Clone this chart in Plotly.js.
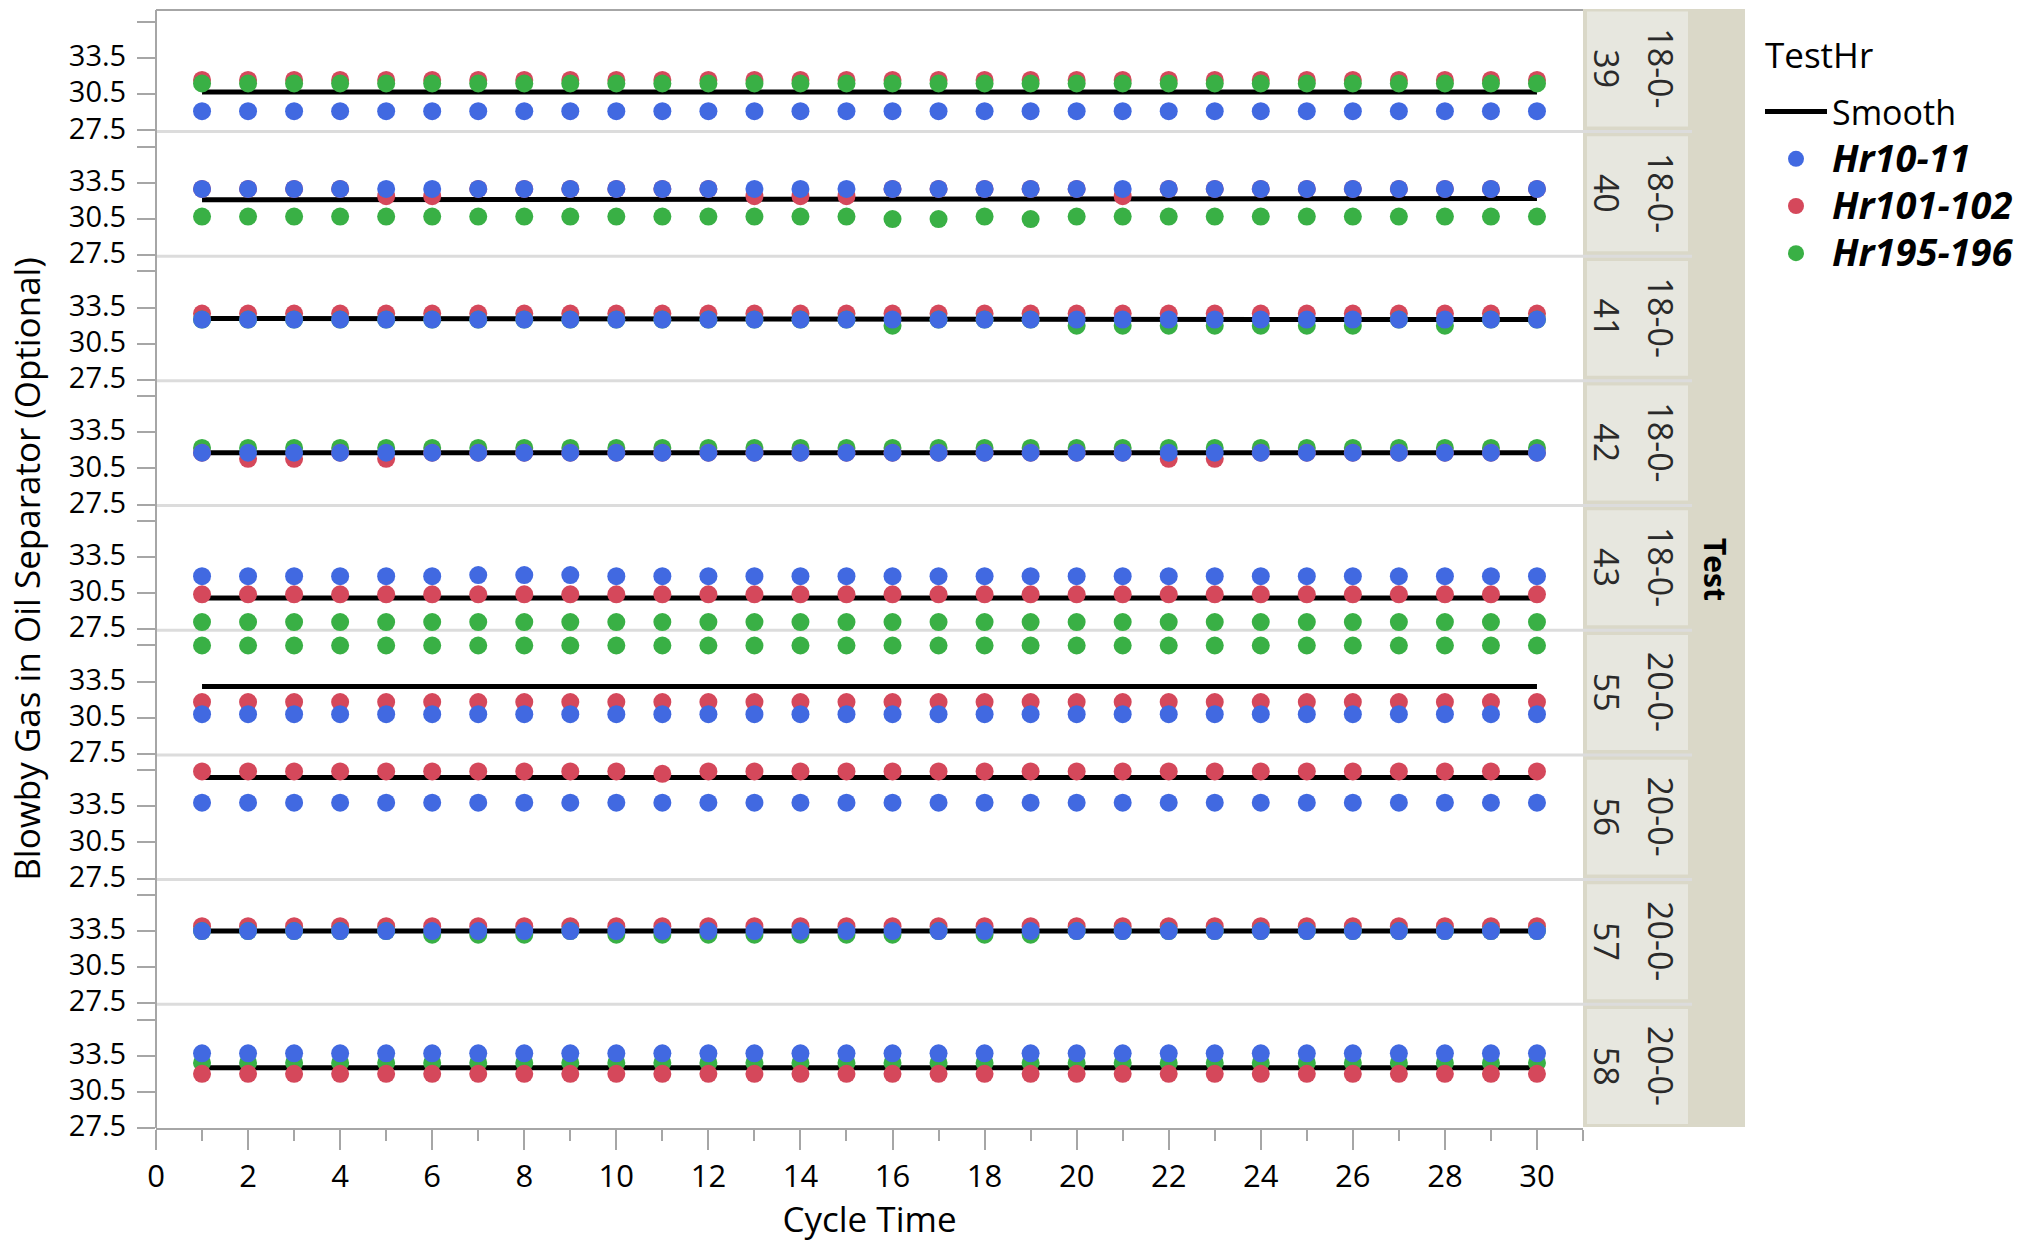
<!DOCTYPE html>
<html><head><meta charset="utf-8">
<script src="https://cdn.plot.ly/plotly-3.0.1.min.js"></script>
<style>html,body{margin:0;padding:0;background:#fff;} #chart{width:2025px;height:1242px;}</style>
</head><body><div id="chart"></div>
<script>
// ---------------- DATA ----------------
const cycleTime = [1,2,3,4,5,6,7,8,9,10,11,12,13,14,15,16,17,18,19,20,21,22,23,24,25,26,27,28,29,30];
const tests = ['18-0-39','18-0-40','18-0-41','18-0-42','18-0-43','20-0-55','20-0-56','20-0-57','20-0-58'];
const hrNames = ['Hr10-11','Hr101-102','Hr195-196'];
const yTickVals = [27.5,30.5,33.5,36.5];
const yTickText = ['27.5','30.5','33.5',''];

// Test 18-0-39
const hr10_39  = [29.1,29.1,29.1,29.1,29.1,29.1,29.1,29.1,29.1,29.1,29.1,29.1,29.1,29.1,29.1,29.1,29.1,29.1,29.1,29.1,29.1,29.1,29.1,29.1,29.1,29.1,29.1,29.1,29.1,29.1];
const hr101_39 = [31.7,31.7,31.7,31.7,31.7,31.7,31.7,31.7,31.7,31.7,31.7,31.7,31.7,31.7,31.7,31.7,31.7,31.7,31.7,31.7,31.7,31.7,31.7,31.7,31.7,31.7,31.7,31.7,31.7,31.7];
const hr195_39 = [31.4,31.4,31.4,31.4,31.4,31.4,31.4,31.4,31.4,31.4,31.4,31.4,31.4,31.4,31.4,31.4,31.4,31.4,31.4,31.4,31.4,31.4,31.4,31.4,31.4,31.4,31.4,31.4,31.4,31.4];
const smooth_39 = [30.7,30.7,30.7,30.7,30.7,30.7,30.7,30.7,30.7,30.7,30.7,30.7,30.7,30.7,30.7,30.7,30.7,30.7,30.7,30.7,30.7,30.7,30.7,30.7,30.7,30.7,30.7,30.7,30.7,30.7];
// Test 18-0-40
const hr10_40  = [33.0,33.0,33.0,33.0,33.0,33.0,33.0,33.0,33.0,33.0,33.0,33.0,33.0,33.0,33.0,33.0,33.0,33.0,33.0,33.0,33.0,33.0,33.0,33.0,33.0,33.0,33.0,33.0,33.0,33.0];
const hr101_40 = [33.0,33.0,33.0,33.0,32.4,32.4,33.0,33.0,33.0,33.0,33.0,33.0,32.4,32.4,32.4,33.0,33.0,33.0,33.0,33.0,32.4,33.0,33.0,33.0,33.0,33.0,33.0,33.0,33.0,33.0];
const hr195_40 = [30.7,30.7,30.7,30.7,30.7,30.7,30.7,30.7,30.7,30.7,30.7,30.7,30.7,30.7,30.7,30.5,30.5,30.7,30.5,30.7,30.7,30.7,30.7,30.7,30.7,30.7,30.7,30.7,30.7,30.7];
const smooth_40 = [32.1,32.1,32.1,32.1,32.2,32.2,32.2,32.2,32.2,32.2,32.2,32.2,32.2,32.2,32.2,32.2,32.2,32.2,32.2,32.2,32.2,32.2,32.2,32.2,32.2,32.2,32.2,32.2,32.2,32.2];
// Test 18-0-41
const hr10_41  = [32.5,32.5,32.5,32.5,32.5,32.5,32.5,32.5,32.5,32.5,32.5,32.5,32.5,32.5,32.5,32.5,32.5,32.5,32.5,32.5,32.5,32.5,32.5,32.5,32.5,32.5,32.5,32.5,32.5,32.5];
const hr101_41 = [33.0,33.0,33.0,33.0,33.0,33.0,33.0,33.0,33.0,33.0,33.0,33.0,33.0,33.0,33.0,33.0,33.0,33.0,33.0,33.0,33.0,33.0,33.0,33.0,33.0,33.0,33.0,33.0,33.0,33.0];
const hr195_41 = [32.5,32.5,32.5,32.5,32.5,32.5,32.5,32.5,32.5,32.5,32.5,32.5,32.5,32.5,32.5,32.0,32.5,32.5,32.5,32.0,32.0,32.0,32.0,32.0,32.0,32.0,32.5,32.0,32.5,32.5];
const smooth_41 = [32.6,32.6,32.6,32.6,32.6,32.6,32.6,32.6,32.6,32.6,32.6,32.6,32.6,32.6,32.6,32.6,32.6,32.6,32.6,32.6,32.6,32.6,32.6,32.6,32.6,32.6,32.5,32.5,32.5,32.5];
// Test 18-0-42
const hr10_42  = [31.8,31.8,31.8,31.8,31.8,31.8,31.8,31.8,31.8,31.8,31.8,31.8,31.8,31.8,31.8,31.8,31.8,31.8,31.8,31.8,31.8,31.8,31.8,31.8,31.8,31.8,31.8,31.8,31.8,31.8];
const hr101_42 = [31.8,31.3,31.3,31.8,31.3,31.8,31.8,31.8,31.8,31.8,31.8,31.8,31.8,31.8,31.8,31.8,31.8,31.8,31.8,31.8,31.8,31.3,31.3,31.8,31.8,31.8,31.8,31.8,31.8,31.8];
const hr195_42 = [32.2,32.2,32.2,32.2,32.2,32.2,32.2,32.2,32.2,32.2,32.2,32.2,32.2,32.2,32.2,32.2,32.2,32.2,32.2,32.2,32.2,32.2,32.2,32.2,32.2,32.2,32.2,32.2,32.2,32.2];
const smooth_42 = [31.8,31.8,31.8,31.8,31.8,31.8,31.8,31.8,31.8,31.8,31.8,31.8,31.8,31.8,31.8,31.8,31.8,31.8,31.8,31.8,31.8,31.8,31.8,31.8,31.8,31.8,31.8,31.8,31.8,31.8];
// Test 18-0-43
const hr10_43  = [31.9,31.9,31.9,31.9,31.9,31.9,32.0,32.0,32.0,31.9,31.9,31.9,31.9,31.9,31.9,31.9,31.9,31.9,31.9,31.9,31.9,31.9,31.9,31.9,31.9,31.9,31.9,31.9,31.9,31.9];
const hr101_43 = [30.4,30.4,30.4,30.4,30.4,30.4,30.4,30.4,30.4,30.4,30.4,30.4,30.4,30.4,30.4,30.4,30.4,30.4,30.4,30.4,30.4,30.4,30.4,30.4,30.4,30.4,30.4,30.4,30.4,30.4];
const hr195_43 = [28.1,28.1,28.1,28.1,28.1,28.1,28.1,28.1,28.1,28.1,28.1,28.1,28.1,28.1,28.1,28.1,28.1,28.1,28.1,28.1,28.1,28.1,28.1,28.1,28.1,28.1,28.1,28.1,28.1,28.1];
const smooth_43 = [30.1,30.1,30.1,30.1,30.1,30.1,30.1,30.1,30.1,30.1,30.1,30.1,30.1,30.1,30.1,30.1,30.1,30.1,30.1,30.1,30.1,30.1,30.1,30.1,30.1,30.1,30.1,30.1,30.1,30.1];
// Test 20-0-55
const hr10_55  = [30.8,30.8,30.8,30.8,30.8,30.8,30.8,30.8,30.8,30.8,30.8,30.8,30.8,30.8,30.8,30.8,30.8,30.8,30.8,30.8,30.8,30.8,30.8,30.8,30.8,30.8,30.8,30.8,30.8,30.8];
const hr101_55 = [31.8,31.8,31.8,31.8,31.8,31.8,31.8,31.8,31.8,31.8,31.8,31.8,31.8,31.8,31.8,31.8,31.8,31.8,31.8,31.8,31.8,31.8,31.8,31.8,31.8,31.8,31.8,31.8,31.8,31.8];
const hr195_55 = [36.5,36.5,36.5,36.5,36.5,36.5,36.5,36.5,36.5,36.5,36.5,36.5,36.5,36.5,36.5,36.5,36.5,36.5,36.5,36.5,36.5,36.5,36.5,36.5,36.5,36.5,36.5,36.5,36.5,36.5];
const smooth_55 = [33.1,33.1,33.1,33.1,33.1,33.1,33.1,33.1,33.1,33.1,33.1,33.1,33.1,33.1,33.1,33.1,33.1,33.1,33.1,33.1,33.1,33.1,33.1,33.1,33.1,33.1,33.1,33.1,33.1,33.1];
// Test 20-0-56
const hr10_56  = [33.8,33.8,33.8,33.8,33.8,33.8,33.8,33.8,33.8,33.8,33.8,33.8,33.8,33.8,33.8,33.8,33.8,33.8,33.8,33.8,33.8,33.8,33.8,33.8,33.8,33.8,33.8,33.8,33.8,33.8];
const hr101_56 = [36.4,36.4,36.4,36.4,36.4,36.4,36.4,36.4,36.4,36.4,36.2,36.4,36.4,36.4,36.4,36.4,36.4,36.4,36.4,36.4,36.4,36.4,36.4,36.4,36.4,36.4,36.4,36.4,36.4,36.4];
const hr195_56 = [37.6,37.6,37.6,37.6,37.6,37.6,37.6,37.6,37.6,37.6,37.6,37.6,37.7,37.6,37.7,37.6,37.6,37.6,37.6,37.6,37.6,37.6,37.6,37.6,37.6,37.6,37.6,37.6,37.6,37.6];
const smooth_56 = [35.9,35.9,35.9,35.9,35.9,35.9,35.9,35.9,35.9,35.9,35.9,36.0,36.0,36.0,36.0,36.0,36.0,36.0,36.0,36.0,36.0,35.9,35.9,35.9,35.9,35.9,35.9,35.9,35.9,35.9];
// Test 20-0-57
const hr10_57  = [33.5,33.5,33.5,33.5,33.5,33.5,33.5,33.5,33.5,33.5,33.5,33.5,33.5,33.5,33.5,33.5,33.5,33.5,33.5,33.5,33.5,33.5,33.5,33.5,33.5,33.5,33.5,33.5,33.5,33.5];
const hr101_57 = [33.9,33.9,33.9,33.9,33.9,33.9,33.9,33.9,33.9,33.9,33.9,33.9,33.9,33.9,33.9,33.9,33.9,33.9,33.9,33.9,33.9,33.9,33.9,33.9,33.9,33.9,33.9,33.9,33.9,33.9];
const hr195_57 = [33.5,33.5,33.5,33.5,33.5,33.2,33.2,33.2,33.5,33.2,33.2,33.2,33.2,33.2,33.2,33.2,33.5,33.2,33.2,33.5,33.5,33.5,33.5,33.5,33.5,33.5,33.5,33.5,33.5,33.5];
const smooth_57 = [33.5,33.5,33.5,33.5,33.5,33.5,33.5,33.6,33.6,33.6,33.6,33.6,33.6,33.6,33.5,33.5,33.5,33.5,33.5,33.5,33.5,33.5,33.5,33.5,33.5,33.5,33.5,33.5,33.5,33.5];
// Test 20-0-58
const hr10_58  = [33.7,33.7,33.7,33.7,33.7,33.7,33.7,33.7,33.7,33.7,33.7,33.7,33.7,33.7,33.7,33.7,33.7,33.7,33.7,33.7,33.7,33.7,33.7,33.7,33.7,33.7,33.7,33.7,33.7,33.7];
const hr101_58 = [32.0,32.0,32.0,32.0,32.0,32.0,32.0,32.0,32.0,32.0,32.0,32.0,32.0,32.0,32.0,32.0,32.0,32.0,32.0,32.0,32.0,32.0,32.0,32.0,32.0,32.0,32.0,32.0,32.0,32.0];
const hr195_58 = [32.9,32.9,32.9,32.9,32.9,32.9,32.9,32.9,32.9,32.9,32.9,32.9,32.9,32.9,32.9,32.9,32.9,32.9,32.9,32.9,32.9,32.9,32.9,32.9,32.9,32.9,32.9,32.9,32.9,32.9];
const smooth_58 = [32.5,32.5,32.5,32.5,32.5,32.5,32.5,32.5,32.5,32.5,32.5,32.5,32.5,32.5,32.4,32.4,32.4,32.4,32.4,32.4,32.4,32.4,32.4,32.4,32.5,32.5,32.5,32.5,32.5,32.5];

const seriesByTest = [
  [hr10_39, hr101_39, hr195_39],
  [hr10_40, hr101_40, hr195_40],
  [hr10_41, hr101_41, hr195_41],
  [hr10_42, hr101_42, hr195_42],
  [hr10_43, hr101_43, hr195_43],
  [hr10_55, hr101_55, hr195_55],
  [hr10_56, hr101_56, hr195_56],
  [hr10_57, hr101_57, hr195_57],
  [hr10_58, hr101_58, hr195_58]
];
const smoothByTest = [smooth_39, smooth_40, smooth_41, smooth_42, smooth_43, smooth_55, smooth_56, smooth_57, smooth_58];

// ---------------- STYLE ----------------
const colors = ['#4169E1', '#D5485B', '#39B045'];
const layerOrder = [[0,1,2],[1,0,2],[1,2,0],[2,1,0],[2,1,0],[2,1,0],[2,1,0],[1,2,0],[2,0,1]];
const FONT = 'Open Sans, Noto Sans, sans-serif';
const W = 2025, H = 1242;
const L = 156, T = 10, PW = 1427, PH = 1118;
const GAP = 4.2;
const n = tests.length;
const PANEL = (PH - (n - 1) * GAP) / n;
const xp = px => (px - L) / PW;
const yp = py => (T + PH - py) / PH;
const panelTop = k => T + k * (PANEL + GAP);
const panelBot = k => panelTop(k) + PANEL;

const data = [];
const layout = {
  width: W, height: H,
  margin: {l: L, r: W - L - PW, t: T, b: H - T - PH, pad: 0, autoexpand: false},
  paper_bgcolor: '#ffffff',
  plot_bgcolor: 'rgba(0,0,0,0)',
  font: {family: FONT, size: 29, color: '#000'},
  showlegend: true,
  legend: {
    x: xp(1760), y: yp(83), xanchor: 'left', yanchor: 'top',
    bgcolor: 'rgba(0,0,0,0)', borderwidth: 0,
    font: {family: FONT, size: 34, color: '#000'},
    traceorder: 'normal', itemwidth: 62, tracegroupgap: 0
  },
  xaxis: {
    anchor: 'y9', range: [0, 31], tick0: 0, dtick: 2,
    ticks: 'outside', ticklen: 20, tickwidth: 2, tickcolor: '#A6A6A6',
    minor: {dtick: 1, ticks: 'outside', ticklen: 11, tickwidth: 2, tickcolor: '#A6A6A6', showgrid: false},
    showline: true, linecolor: '#A6A6A6', linewidth: 2, mirror: false,
    showgrid: false, zeroline: false, fixedrange: true,
    tickfont: {family: FONT, size: 31, color: '#000'},
    title: {text: 'Cycle Time', font: {family: FONT, size: 35, color: '#000'}, standoff: 14},
    automargin: false
  },
  shapes: [],
  annotations: []
};

for (let k = 0; k < n; k++) {
  const yid = k === 0 ? 'y' : 'y' + (k + 1);
  const key = k === 0 ? 'yaxis' : 'yaxis' + (k + 1);
  layout[key] = {
    anchor: 'x', range: [27.5, 37.5],
    domain: [yp(panelBot(k)), yp(panelTop(k))],
    tickvals: yTickVals, ticktext: yTickText,
    ticks: 'outside', ticklen: 18, tickwidth: 2, tickcolor: '#A6A6A6',
    ticklabelshift: -2, ticklabelstandoff: 5,
    showline: false, showgrid: false, zeroline: false, fixedrange: true,
    tickfont: {family: FONT, size: 29, color: '#000'},
    automargin: false
  };
  if (k === 4) {
    layout[key].title = {text: 'Blowby Gas in Oil Separator (Optional)', font: {family: FONT, size: 35, color: '#000'}, standoff: 17};
  }
  data.push({
    type: 'scatter', mode: 'lines', x: cycleTime, y: smoothByTest[k],
    xaxis: 'x', yaxis: yid, name: 'Smooth', legendgroup: 'smooth', legendrank: 1,
    showlegend: k === 0, line: {color: '#000000', width: 5}, hoverinfo: 'skip'
  });
  layerOrder[k].forEach(s => {
    data.push({
      type: 'scatter', mode: 'markers', x: cycleTime, y: seriesByTest[k][s],
      xaxis: 'x', yaxis: yid,
      name: '<span style="font-size:38px"><b><i>' + hrNames[s] + '</i></b></span>',
      legendgroup: hrNames[s],
      legendrank: 2 + s, showlegend: k === 0, cliponaxis: false,
      marker: {size: 18, color: colors[s], line: {width: 0}}
    });
  });

  const yc = (panelTop(k) + panelBot(k)) / 2 - 2;
  // strip box
  layout.shapes.push({type: 'rect', xref: 'paper', yref: 'paper', layer: 'below',
    x0: xp(1587), x1: xp(1688), y0: yp(panelBot(k) - 4), y1: yp(panelTop(k) + 1.5),
    fillcolor: '#E7E7DF', line: {width: 0}});
  // strip label: two rotated lines
  layout.annotations.push({xref: 'paper', yref: 'paper', x: xp(1661), y: yp(yc),
    text: tests[k].slice(0, 5), textangle: 90, showarrow: false,
    xanchor: 'center', yanchor: 'middle', font: {family: FONT, size: 34, color: '#2a2a2a'}});
  layout.annotations.push({xref: 'paper', yref: 'paper', x: xp(1607), y: yp(yc),
    text: tests[k].slice(5), textangle: 90, showarrow: false,
    xanchor: 'center', yanchor: 'middle', font: {family: FONT, size: 34, color: '#2a2a2a'}});
  if (k < n - 1) {
    const ys = yp(panelBot(k) + 1);
    layout.shapes.push({type: 'line', xref: 'paper', yref: 'paper', layer: 'below',
      x0: 0, x1: xp(1692), y0: ys, y1: ys, line: {color: '#DCDCDC', width: 3}});
  }
}
// beige strip band (drawn first)
layout.shapes.unshift({type: 'rect', xref: 'paper', yref: 'paper', layer: 'below',
  x0: xp(1583), x1: xp(1745), y0: yp(1127), y1: yp(9), fillcolor: '#DAD8C8', line: {width: 0}});
// top border and left axis line
layout.shapes.push({type: 'line', xref: 'paper', yref: 'paper', x0: 0, x1: 1, y0: 1, y1: 1, line: {color: '#A6A6A6', width: 2}});
layout.shapes.push({type: 'line', xref: 'paper', yref: 'paper', x0: 0, x1: 0, y0: 0, y1: 1, line: {color: '#A6A6A6', width: 2}});
// overall strip title
layout.annotations.push({xref: 'paper', yref: 'paper', x: xp(1716), y: yp(569), text: '<b>Test</b>', textangle: 90,
  showarrow: false, xanchor: 'center', yanchor: 'middle', font: {family: FONT, size: 30, color: '#000'}});
// legend heading
layout.annotations.push({xref: 'paper', yref: 'paper', x: xp(1763), y: yp(54), text: 'TestHr',
  showarrow: false, xanchor: 'left', yanchor: 'middle', font: {family: FONT, size: 35, color: '#000'}});

Plotly.newPlot('chart', data, layout, {displayModeBar: false, staticPlot: true});
</script></body></html>
